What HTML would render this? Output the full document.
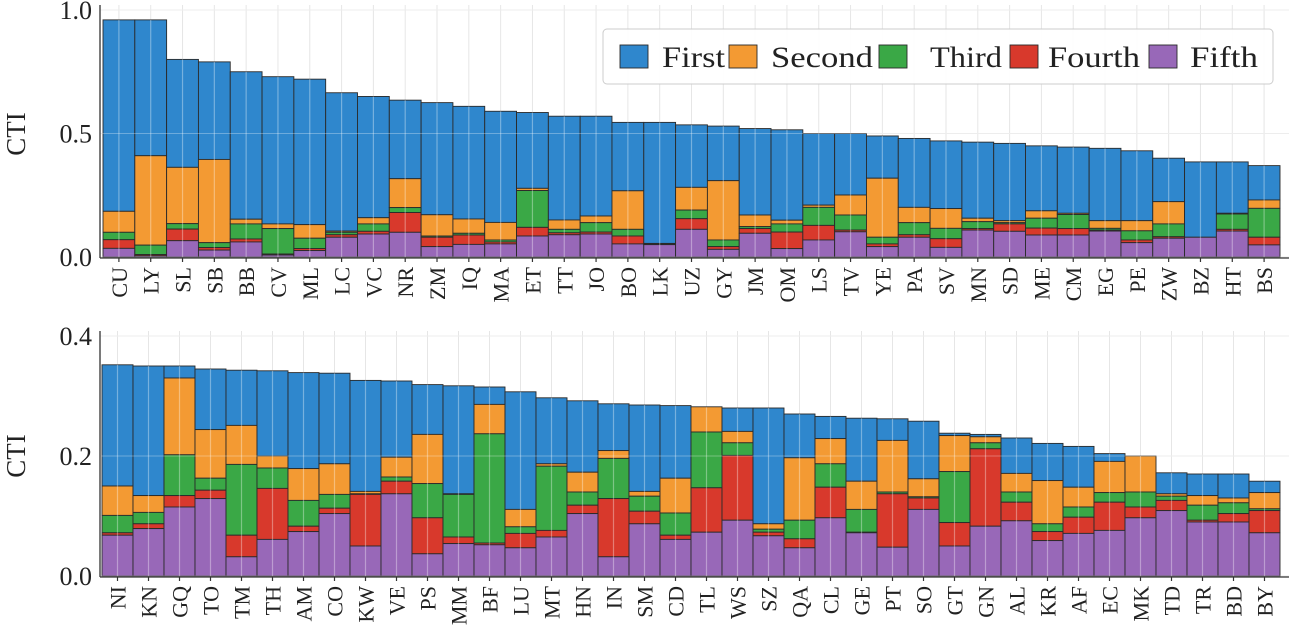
<!DOCTYPE html>
<html><head><meta charset="utf-8">
<style>
html,body{margin:0;padding:0;background:#fff;}
svg{display:block;font-family:"Liberation Serif",serif;}
</style></head>
<body>
<svg id="chart" width="1296" height="634" viewBox="0 0 1296 634" xmlns="http://www.w3.org/2000/svg"></svg>
<script>
// ---- Top panel data (cumulative stacked tops) ----
const topCategories = ["CU","LY","SL","SB","BB","CV","ML","LC","VC","NR","ZM","IQ","MA","ET","TT","JO","BO","LK","UZ","GY","JM","OM","LS","TV","YE","PA","SV","MN","SD","ME","CM","EG","PE","ZW","BZ","HT","BS"];
const topFirst  = [.96,.96,.80,.79,.75,.73,.72,.665,.65,.635,.625,.61,.59,.585,.57,.57,.545,.545,.535,.53,.52,.515,.50,.50,.49,.48,.47,.465,.46,.45,.445,.44,.43,.40,.385,.385,.37];
const topSecond = [.185,.41,.363,.395,.153,.134,.131,.105,.159,.317,.171,.154,.14,.278,.15,.166,.268,.055,.282,.309,.17,.149,.21,.251,.319,.201,.196,.157,.147,.187,.177,.147,.147,.224,.08,.177,.231];
const topThird  = [.10,.048,.135,.058,.134,.115,.076,.10,.134,.2,.085,.096,.069,.269,.112,.139,.112,.053,.19,.069,.123,.134,.201,.17,.08,.139,.116,.143,.139,.157,.172,.116,.106,.134,.08,.174,.197];
const topFourth = [.07,.01,.113,.038,.073,.012,.034,.09,.104,.18,.08,.089,.061,.12,.098,.101,.085,.052,.155,.042,.115,.101,.128,.109,.053,.09,.074,.115,.134,.117,.115,.109,.069,.082,.08,.112,.08];
const topFifth  = [.035,.005,.066,.028,.061,.008,.026,.08,.093,.1,.042,.051,.053,.085,.09,.093,.053,.05,.112,.031,.096,.034,.069,.102,.042,.08,.039,.109,.104,.089,.089,.105,.058,.076,.08,.105,.049];
const topTicks = [0, 0.5, 1.0];
const topTickLabels = ["0.0","0.5","1.0"];
// ---- Bottom panel data (cumulative stacked tops) ----
const botCategories = ["NI","KN","GQ","TO","TM","TH","AM","CO","KW","VE","PS","MM","BF","LU","MT","HN","IN","SM","CD","TL","WS","SZ","QA","CL","GE","PT","SO","GT","GN","AL","KR","AF","EC","MK","TD","TR","BD","BY"];
const botFirst  = [.352,.35,.35,.345,.343,.342,.339,.338,.326,.325,.319,.317,.315,.307,.297,.292,.287,.285,.284,.281,.28,.28,.27,.266,.263,.262,.258,.238,.236,.23,.221,.216,.204,.2,.172,.17,.17,.158];
const botSecond = [.15,.134,.33,.244,.251,.2,.179,.187,.141,.198,.236,.137,.286,.111,.187,.173,.209,.141,.163,.282,.241,.087,.197,.229,.158,.226,.162,.234,.232,.171,.159,.148,.191,.2,.137,.134,.13,.139];
const botThird  = [.101,.106,.202,.163,.186,.18,.126,.136,.137,.165,.154,.136,.237,.082,.183,.14,.196,.133,.105,.24,.222,.078,.093,.187,.111,.14,.132,.174,.222,.14,.087,.115,.139,.14,.133,.118,.122,.112];
const botFourth = [.072,.087,.134,.143,.068,.146,.083,.113,.136,.158,.097,.065,.055,.071,.076,.118,.129,.108,.068,.147,.201,.073,.062,.148,.073,.137,.13,.089,.212,.123,.074,.098,.123,.115,.126,.093,.104,.109];
const botFifth  = [.068,.079,.115,.129,.032,.061,.074,.104,.05,.137,.037,.054,.052,.047,.065,.104,.032,.087,.061,.073,.093,.067,.047,.097,.072,.048,.111,.05,.083,.092,.059,.071,.076,.097,.109,.09,.09,.072];
const botTicks = [0, 0.2, 0.4];
const botTickLabels = ["0.0","0.2","0.4"];
const seriesNames = ["First","Second","Third","Fourth","Fifth"];
const seriesColors = ["#2f87cd","#f39a33","#3aa846","#d8392c","#9868b8"];

const NS = "http://www.w3.org/2000/svg";
const svg = document.getElementById("chart");
function mk(tag, attrs, parent){
  const e = document.createElementNS(NS, tag);
  for (const k in attrs) e.setAttribute(k, attrs[k]);
  (parent||svg).appendChild(e);
  return e;
}

function panel(p){
  const g = mk("g", {});
  
  
  const n = p.cats.length;
  const bw = (p.x1 - p.x0) / n;
  const xS = i => p.x0 + i * bw;
  const yS = v => p.y0 - v * p.scale;
  const axTop = yS(p.ticks[p.ticks.length-1]) - 5;
  p.ticks.forEach((t,k)=>{
    const gl = mk("line",{x1:p.axL,x2:p.axR,y1:yS(t),y2:yS(t),stroke:"#e6e6e6","stroke-width":1},g);
    
    
    const tl = mk("text",{x:p.axL-8,y:yS(t)+9,"text-anchor":"end","font-size":26,fill:"#222"},g);
    tl.textContent = p.tickLabels[k];
    
    
  });
  for (let i=0;i<n;i++){
    const cx = xS(i)+bw/2;
    mk("line",{x1:cx,x2:cx,y1:axTop,y2:p.y0,stroke:"#e6e6e6","stroke-width":1},g);
  }
  const stacks = [p.first,p.second,p.third,p.fourth,p.fifth];
  for (let i=0;i<n;i++){
    for (let s=0;s<5;s++){
      const top = stacks[s][i];
      const bot = s<4 ? stacks[s+1][i] : 0;
      const r = mk("rect",{x:xS(i),y:yS(top),width:bw,height:Math.max(0,yS(bot)-yS(top)),fill:seriesColors[s],stroke:"#2a2a2a","stroke-width":0.9},g);
      
      
    }
  }
  for (let i=0;i<n;i++){
    const cx = xS(i)+bw/2;
    mk("line",{x1:cx,x2:cx,y1:yS(stacks[0][i]),y2:p.y0,stroke:"#ffffff","stroke-opacity":0.35,"stroke-width":1.2},g);
  }
  p.ticks.forEach(t=>{
    mk("line",{x1:p.axL,x2:p.axR,y1:yS(t),y2:yS(t),stroke:"#ffffff","stroke-opacity":0.3,"stroke-width":1},g);
  });
  const sl = mk("line",{x1:p.axL,x2:p.axL,y1:axTop,y2:p.y0+1,stroke:"#333","stroke-width":1.3},g);
  
  
  const sb = mk("line",{x1:p.axL,x2:p.axR,y1:p.y0+1,y2:p.y0+1,stroke:"#333","stroke-width":1.3},g);
  
  
  for (let i=0;i<n;i++){
    const cx = xS(i)+bw/2;
    mk("line",{x1:cx,x2:cx,y1:p.y0+1,y2:p.y0+5,stroke:"#333","stroke-width":1.2},g);
    const tx = mk("text",{transform:`translate(${cx+8},${p.y0+10}) rotate(-90)`,"text-anchor":"end","font-size":22,fill:"#222"},g);
    tx.textContent = p.cats[i];
    
    
  }
  const yt = mk("text",{transform:`translate(25,${p.yTitle}) rotate(-90)`,"text-anchor":"middle","font-size":27,fill:"#222"},g);
  yt.textContent = "CTI";
  
  
}

panel({name:"top-panel",cats:topCategories,first:topFirst,second:topSecond,third:topThird,fourth:topFourth,fifth:topFifth,
  ticks:topTicks,tickLabels:topTickLabels,x0:103,x1:1280,axL:100,axR:1289,y0:257,scale:247,yTitle:134});
panel({name:"bottom-panel",cats:botCategories,first:botFirst,second:botSecond,third:botThird,fourth:botFourth,fifth:botFifth,
  ticks:botTicks,tickLabels:botTickLabels,x0:102,x1:1280,axL:100,axR:1289,y0:576,scale:600,yTitle:456});

const lg = mk("g",{});


mk("rect",{x:603,y:29,width:670,height:55,rx:4,fill:"#ffffff","fill-opacity":0.92,stroke:"#cccccc","stroke-width":1},lg);
const patchX = [620,729,879,1010,1149];
const textX = [662,771,930,1048,1190];
const textW = [63,102,72,92,68];
seriesNames.forEach((nm,k)=>{
  const e = mk("g",{},lg);
  
  
  mk("rect",{x:patchX[k],y:45,width:28,height:23,fill:seriesColors[k],stroke:"#2a2a2a","stroke-width":0.9},e);
  const t = mk("text",{x:textX[k],y:67,"font-size":30,fill:"#222",textLength:textW[k],lengthAdjust:"spacingAndGlyphs"},e);
  t.textContent = nm;
});
</script>
</body></html>
